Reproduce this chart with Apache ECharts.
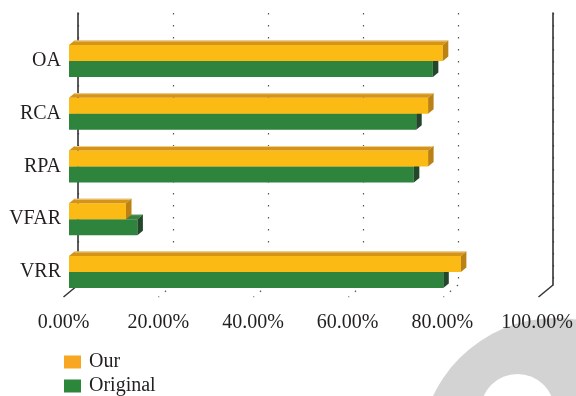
<!DOCTYPE html>
<html><head><meta charset="utf-8">
<script src="https://cdn.jsdelivr.net/npm/echarts@6/dist/echarts.min.js"></script>
<style>html,body{margin:0;padding:0;background:#fff}#c{width:576px;height:396px}</style>
</head><body><div id="c"></div>
<script>
// ---- data ----
const categories = ['OA', 'RCA', 'RPA', 'VFAR', 'VRR'];
const seriesNames = ['Our', 'Original'];
const ourValues = [78.7, 75.6, 75.6, 12.0, 82.5];
const originalValues = [76.6, 73.1, 72.6, 14.4, 78.8];
const tickValues = [0, 20, 40, 60, 80, 100];
const tickLabels = ['0.00%', '20.00%', '40.00%', '60.00%', '80.00%', '100.00%'];

// ---- styles ----
const FONT = '"Liberation Serif", "DejaVu Serif", serif';
const TEXT = '#231f20';
const DX = 5.5, DY = -4.5;          // bar depth offset
const WALL_DX = -14.5, WALL_DY = 12; // wall-to-front offset
const BAR_FRAC = 0.303;
const palettes = {
  Our: { legend: '#F8A723', front: '#FCBA15', top: '#D69416', end: '#BC8113', hi: '#EDCF95' },
  Original: { legend: '#2D873B', front: '#2E843D', top: '#3A8040', end: '#22472A', hi: '#4F9658' }
};

function makeBarRender(slot, pal) {
  return function (params, api) {
    const v = api.value(0), ci = api.value(1);
    const c = api.coord([v, ci]);
    const c0 = api.coord([0, ci]);
    const h = api.size([0, 1])[1] * BAR_FRAC;
    const top = slot === 0 ? c[1] - h : c[1];
    const bot = top + h;
    const x0 = c0[0], x1 = c[0];
    return {
      type: 'group',
      children: [
        { type: 'rect', shape: { x: x0, y: top, width: x1 - x0, height: h }, style: { fill: pal.front } },
        { type: 'polygon', shape: { points: [[x0, top], [x0 + DX, top + DY], [x1 + DX, top + DY], [x1, top]] }, style: { fill: pal.top } },
        { type: 'line', shape: { x1: x0 + DX, y1: top + DY + 0.5, x2: x1 + DX, y2: top + DY + 0.5 }, style: { stroke: pal.hi, lineWidth: 1 } },
        { type: 'polygon', shape: { points: [[x1, top], [x1 + DX, top + DY], [x1 + DX, bot + DY], [x1, bot]] }, style: { fill: pal.end } }
      ]
    };
  };
}

function floorRender(params, api) {
  const v = api.value(0);
  const p = api.coord([v, 0]);
  const edge = (v === tickValues[0] || v === tickValues[tickValues.length - 1]);
  return {
    type: 'line',
    shape: { x1: p[0], y1: p[1], x2: p[0] + WALL_DX, y2: p[1] + WALL_DY },
    style: edge ? { stroke: '#333', lineWidth: 1.5 } : { stroke: '#555', lineWidth: 1.2, lineDash: [1.5, 7.5] }
  };
}

const chart = echarts.init(document.getElementById('c'));
chart.setOption({
  animation: false,
  backgroundColor: '#ffffff',
  graphic: [
    { type: 'circle', z: -10, shape: { cx: 556, cy: 454, r: 136 }, style: { fill: '#d3d3d3' }, silent: true },
    { type: 'circle', z: -9, shape: { cx: 517.5, cy: 411, r: 37 }, style: { fill: '#ffffff' }, silent: true }
  ],
  grid: [
    { left: 69, top: 34.6, width: 475, height: 263.75 },   // bars
    { left: 78, top: 13, width: 475, height: 272 },        // back wall
    { left: 63.5, top: 200, width: 475, height: 97 }       // front plane labels
  ],
  xAxis: [
    { gridIndex: 0, type: 'value', min: 0, max: 100, show: false },
    { gridIndex: 1, type: 'value', min: 0, max: 100, interval: 20,
      axisLine: { show: false }, axisTick: { show: false }, axisLabel: { show: false },
      splitLine: { show: true, lineStyle: { color: '#555', width: 1.2, type: [1.5, 10.5] } } },
    { gridIndex: 2, type: 'value', min: 0, max: 100, interval: 20,
      axisLine: { show: false }, axisTick: { show: false }, splitLine: { show: false },
      axisLabel: { margin: 16, fontSize: 20, fontFamily: FONT, color: TEXT,
        formatter: function (v) { return tickLabels[tickValues.indexOf(v)]; } } }
  ],
  yAxis: [
    { gridIndex: 0, type: 'category', inverse: true, data: categories,
      axisLine: { show: false }, axisTick: { show: false }, splitLine: { show: false },
      axisLabel: { margin: 8, fontSize: 20, fontFamily: FONT, color: TEXT, padding: [0, 0, 6, 0] } },
    { gridIndex: 1, type: 'value', min: 0, max: 1, position: 'left',
      axisLine: { show: true, lineStyle: { color: '#333', width: 1.6 } },
      axisTick: { show: false }, axisLabel: { show: false }, splitLine: { show: false } },
    { gridIndex: 1, type: 'value', min: 0, max: 1, position: 'right',
      axisLine: { show: true, lineStyle: { color: '#333', width: 1.6 } },
      axisTick: { show: false }, axisLabel: { show: false }, splitLine: { show: false } },
    { gridIndex: 2, type: 'value', show: false }
  ],
  legend: {
    data: seriesNames, orient: 'vertical', left: 64, top: 352, height: 80, padding: 0,
    icon: 'rect', itemWidth: 17, itemHeight: 13, itemGap: 4,
    textStyle: { fontSize: 20, fontFamily: FONT, color: TEXT, padding: [0, 0, 0, 3] },
    selectedMode: false
  },
  series: [
    { name: 'Floor', type: 'custom', xAxisIndex: 1, yAxisIndex: 1, silent: true,
      data: tickValues.map(v => [v]), encode: { x: 0 }, renderItem: floorRender, z: 1 },
    { name: seriesNames[1], type: 'custom', xAxisIndex: 0, yAxisIndex: 0,
      itemStyle: { color: palettes.Original.legend },
      data: originalValues.map((v, i) => [v, i]), encode: { x: 0, y: 1 },
      renderItem: makeBarRender(1, palettes.Original), z: 3 },
    { name: seriesNames[0], type: 'custom', xAxisIndex: 0, yAxisIndex: 0,
      itemStyle: { color: palettes.Our.legend },
      data: ourValues.map((v, i) => [v, i]), encode: { x: 0, y: 1 },
      renderItem: makeBarRender(0, palettes.Our), z: 4 }
  ]
});
</script>
</body></html>
